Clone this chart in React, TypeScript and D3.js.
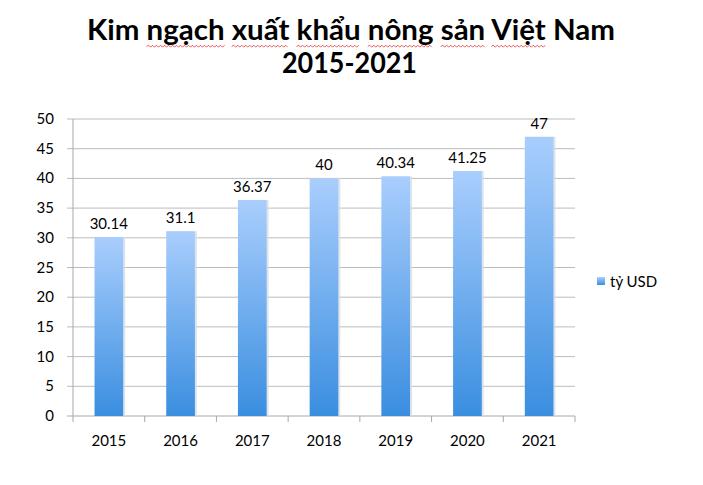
import React, { useLayoutEffect, useRef, useState } from "react";
import * as d3 from "d3";

const years = ["2015", "2016", "2017", "2018", "2019", "2020", "2021"];
const values = [30.14, 31.1, 36.37, 40, 40.34, 41.25, 47];
const valueLabels = ["30.14", "31.1", "36.37", "40", "40.34", "41.25", "47"];
const yTicks = [0, 5, 10, 15, 20, 25, 30, 35, 40, 45, 50];
const titleLine1 = "Kim ngạch xuất khẩu nông sản Việt Nam";
const titleLine2 = "2015-2021";
const misspelled = ["ngạch", "xuất", "khẩu", "nông", "sản", "Việt"];
const seriesName = "tỷ USD";

const W = 703;
const H = 485;
const FONT = "Lato, 'Open Sans', sans-serif";

function wavyPath(x0: number, x1: number, y: number) {
  const pts: string[] = [];
  const step = 2;
  let up = true;
  pts.push(`M${x0},${y}`);
  for (let x = x0 + step; x <= x1; x += step) {
    pts.push(`L${x},${up ? y - 1.3 : y + 0.7}`);
    up = !up;
  }
  return pts.join(" ");
}

export default function App() {
  const x = d3
    .scaleBand<string>()
    .domain(years)
    .range([73, 575])
    .paddingInner(0.6)
    .paddingOuter(0.3);
  const y = d3.scaleLinear().domain([0, 50]).range([416, 119]);
  const bw = x.bandwidth();
  const step = x.step();
  const x0 = 73;
  const x1 = 575;

  const titleRef = useRef<SVGTextElement>(null);
  const [squiggles, setSquiggles] = useState<{ a: number; b: number }[]>([]);

  useLayoutEffect(() => {
    const el = titleRef.current;
    if (!el) return;
    const out: { a: number; b: number }[] = [];
    misspelled.forEach((w) => {
      const idx = titleLine1.indexOf(w);
      if (idx < 0) return;
      try {
        const a = el.getStartPositionOfChar(idx).x;
        const b = el.getEndPositionOfChar(idx + w.length - 1).x;
        out.push({ a, b });
      } catch (e) {}
    });
    setSquiggles(out);
  }, []);

  return (
    <svg
      width={W}
      height={H}
      style={{ position: "absolute", left: 0, top: 0, background: "#fff" }}
    >
      <defs>
        <linearGradient id="barGrad" x1="0" y1="0" x2="0" y2="1">
          <stop offset="0%" stopColor="#a9cefd" />
          <stop offset="100%" stopColor="#3a8ee0" />
        </linearGradient>
        <linearGradient id="legGrad" x1="0" y1="0" x2="0" y2="1">
          <stop offset="0%" stopColor="#a9cefd" />
          <stop offset="100%" stopColor="#3a8ee0" />
        </linearGradient>
      </defs>

      {/* title */}
      <text
        ref={titleRef}
        x={351}
        y={40}
        textAnchor="middle"
        fontFamily={FONT}
        fontWeight={700}
        fontSize={28}
        textLength={528}
        lengthAdjust="spacingAndGlyphs"
        fill="#000"
      >
        {titleLine1}
      </text>
      <text
        x={349.5}
        y={73}
        textAnchor="middle"
        fontFamily={FONT}
        fontWeight={700}
        fontSize={28}
        textLength={135}
        lengthAdjust="spacingAndGlyphs"
        fill="#000"
      >
        {titleLine2}
      </text>
      {squiggles.map((s, i) => (
        <path
          key={i}
          d={wavyPath(s.a, s.b, 46.5)}
          fill="none"
          stroke="#e03030"
          strokeWidth={0.8}
        />
      ))}

      {/* gridlines */}
      {yTicks.map((t) => (
        <line
          key={t}
          x1={67}
          x2={x1}
          y1={y(t)}
          y2={y(t)}
          stroke={t === 0 ? "#a8a8a8" : "#bcbcbc"}
          strokeWidth={1}
        />
      ))}
      {/* y axis */}
      <line x1={x0} x2={x0} y1={y(50)} y2={y(0)} stroke="#a8a8a8" />
      {yTicks.map((t) => (
        <text
          key={t}
          x={54}
          y={y(t) + 5}
          textAnchor="end"
          fontFamily={FONT}
          fontSize={15}
          fill="#000"
        >
          {t}
        </text>
      ))}

      {/* x ticks */}
      {years.map((yr, i) => (
        <line
          key={yr}
          x1={x0 + i * step}
          x2={x0 + i * step}
          y1={y(0)}
          y2={y(0) + 6}
          stroke="#a8a8a8"
        />
      ))}
      <line x1={x1} x2={x1} y1={y(0)} y2={y(0) + 6} stroke="#a8a8a8" />
      {years.map((yr) => (
        <text
          key={yr}
          x={(x(yr) as number) + bw / 2}
          y={446}
          textAnchor="middle"
          fontFamily={FONT}
          fontSize={15}
          fill="#000"
        >
          {yr}
        </text>
      ))}

      {/* bars */}
      {years.map((yr, i) => {
        const bx = x(yr) as number;
        const by = y(values[i]);
        const bh = y(0) - by;
        return (
          <g key={yr}>
            <rect
              x={bx + 1}
              y={by}
              width={bw + 1}
              height={bh}
              fill="#d6dde6"
              opacity={0.8}
            />
            <rect x={bx} y={by} width={bw} height={bh} fill="url(#barGrad)" />
            <text
              x={bx + bw / 2}
              y={by - 8}
              textAnchor="middle"
              fontFamily={FONT}
              fontSize={15}
              fill="#000"
            >
              {valueLabels[i]}
            </text>
          </g>
        );
      })}

      {/* legend */}
      <rect x={597} y={277} width={8} height={8} fill="url(#legGrad)" />
      <text x={610} y={287} fontFamily={FONT} fontSize={15} fill="#000">
        {seriesName}
      </text>
    </svg>
  );
}
